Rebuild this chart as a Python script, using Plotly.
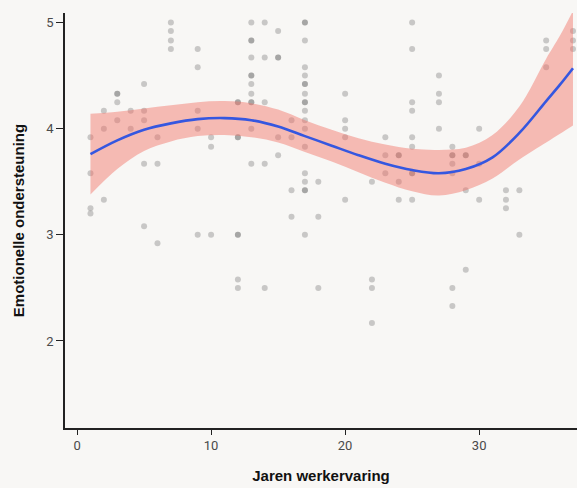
import plotly.graph_objects as go

# Scatter data (years of experience, emotional support score)
years = [
    7, 7, 7, 7, 9, 9, 5, 3, 3, 3, 2, 4, 5, 9, 12, 3, 5, 2, 4, 9, 1, 6, 10, 12, 12, 10,
    13, 14, 15, 17, 17, 13, 13, 17, 13, 14, 15, 15, 17, 13, 13, 17, 13, 17, 17, 13, 17, 20,
    12, 13, 13, 14, 17, 17, 17, 16, 17, 20, 13, 17, 20, 15, 16, 20, 23, 17, 15, 23, 24,
    25, 25, 27, 27, 27, 25, 25, 27, 30, 25, 25, 28, 28, 29, 24,
    35, 35, 35, 37, 37, 37,
    1, 5, 6, 2, 1, 1, 5, 6, 9, 10, 12, 12, 12,
    13, 14, 17, 17, 18, 16, 17, 17, 20, 16, 18, 12, 17, 14, 18, 22, 22, 22, 22,
    23, 24, 24, 25, 28, 29, 28, 30, 25, 25, 28, 29, 32, 33, 30, 32, 32, 33, 29, 28, 28
]
scores = [
    5.0, 4.92, 4.83, 4.75, 4.75, 4.58, 4.42, 4.33, 4.33, 4.25, 4.17, 4.17, 4.17, 4.17, 4.25, 4.08, 4.08, 4.0, 4.0, 4.0, 3.92, 3.92, 3.92, 3.92, 3.92, 3.83,
    5.0, 5.0, 4.92, 5.0, 5.0, 4.83, 4.83, 4.83, 4.67, 4.67, 4.67, 4.67, 4.58, 4.5, 4.5, 4.5, 4.42, 4.42, 4.42, 4.33, 4.33, 4.33,
    4.25, 4.25, 4.25, 4.25, 4.25, 4.25, 4.17, 4.08, 4.08, 4.08, 4.0, 4.0, 4.0, 3.92, 3.92, 3.92, 3.92, 3.83, 3.75, 3.75, 3.75,
    5.0, 4.75, 4.5, 4.33, 4.25, 4.25, 4.17, 4.0, 4.0, 3.92, 3.83, 3.83, 3.75, 3.75, 3.75,
    4.83, 4.75, 4.58, 4.92, 4.83, 4.75,
    3.58, 3.67, 3.67, 3.33, 3.25, 3.2, 3.08, 2.92, 3.0, 3.0, 3.0, 2.58, 2.5,
    3.67, 3.67, 3.58, 3.5, 3.5, 3.42, 3.42, 3.42, 3.33, 3.17, 3.17, 3.0, 3.0, 2.5, 2.5, 2.58, 2.5, 2.17, 3.5,
    3.58, 3.5, 3.33, 3.33, 3.67, 3.42, 3.58, 3.67, 3.58, 3.58, 3.75, 3.75, 3.42, 3.42, 3.33, 3.33, 3.25, 3.0, 2.67, 2.5, 2.33
]

# Smoothed fit and confidence band
fit_x = [1, 3, 5, 7, 9, 11, 13, 15, 17, 19, 21, 23, 25, 27, 29, 31, 33, 35, 36, 37]
fit_y = [3.76, 3.89, 3.99, 4.05, 4.09, 4.10, 4.08, 4.02, 3.93, 3.84, 3.75, 3.67, 3.61, 3.58, 3.62, 3.73, 3.96, 4.26, 4.41, 4.57]
band_upper = [4.14, 4.16, 4.19, 4.22, 4.25, 4.26, 4.24, 4.18, 4.08, 3.99, 3.91, 3.85, 3.81, 3.80, 3.82, 3.94, 4.21, 4.66, 4.87, 5.11]
band_lower = [3.38, 3.62, 3.79, 3.88, 3.93, 3.94, 3.92, 3.87, 3.78, 3.69, 3.59, 3.49, 3.41, 3.37, 3.42, 3.53, 3.71, 3.87, 3.95, 4.03]

x_ticks = [0, 10, 20, 30]
y_ticks = [2, 3, 4, 5]

BG = "#f8f7f5"

fig = go.Figure()
fig.add_trace(go.Scatter(
    x=years, y=scores, mode="markers",
    marker=dict(size=6, color="rgba(90,90,90,0.3)", line=dict(width=0)),
    hoverinfo="skip", showlegend=False,
))
fig.add_trace(go.Scatter(
    x=fit_x, y=band_lower, mode="lines", line=dict(width=0, shape="spline"),
    hoverinfo="skip", showlegend=False,
))
fig.add_trace(go.Scatter(
    x=fit_x, y=band_upper, mode="lines", line=dict(width=0, shape="spline"),
    fill="tonexty", fillcolor="rgba(242,110,100,0.45)",
    hoverinfo="skip", showlegend=False,
))
fig.add_trace(go.Scatter(
    x=fit_x, y=fit_y, mode="lines",
    line=dict(color="#3557e0", width=2.6, shape="spline"),
    hoverinfo="skip", showlegend=False,
))

axis_font = dict(family="Roboto, Liberation Sans, sans-serif", size=13, color="#4a4a4a")
title_font = dict(family="Liberation Sans, Arial, sans-serif", size=15, color="#111111")

fig.update_layout(
    width=577, height=488,
    margin=dict(l=65, r=0, t=13, b=60),
    paper_bgcolor=BG, plot_bgcolor=BG,
    xaxis=dict(
        range=[-0.9, 37.3], tickvals=x_ticks, ticktext=[str(v) for v in x_ticks],
        showgrid=False, zeroline=False, showline=True, linecolor="#222222", linewidth=1.5,
        ticks="outside", ticklen=5, tickwidth=1.2, tickcolor="#222222",
        tickfont=axis_font,
        title=dict(text="<b>Jaren werkervaring</b>", font=title_font, standoff=18),
    ),
    yaxis=dict(
        range=[1.18, 5.09], tickvals=y_ticks, ticktext=[str(v) for v in y_ticks],
        showgrid=False, zeroline=False, showline=True, linecolor="#222222", linewidth=1.5,
        ticks="outside", ticklen=7, tickwidth=1.2, tickcolor="#222222",
        tickfont=axis_font,
        title=dict(text="<b>Emotionelle ondersteuning</b>", font=title_font, standoff=18),
    ),
)

fig.write_html(
    "out.html",
    config={"displayModeBar": False},
    post_script="document.body.style.margin='0';document.body.style.background='%s';" % BG,
)
